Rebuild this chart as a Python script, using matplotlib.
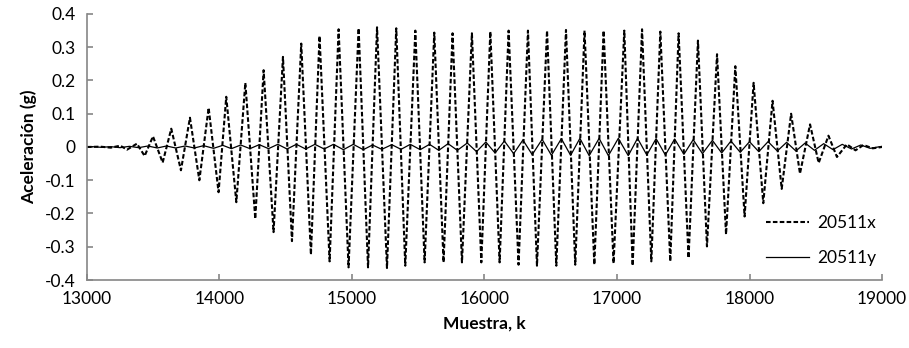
import matplotlib
matplotlib.use("Agg")
import matplotlib.pyplot as plt
from matplotlib.ticker import FuncFormatter, MultipleLocator

plt.rcParams["font.family"] = ["Lato", "DejaVu Sans"]

# 20511x: extremos (muestra, aceleración en g)
x_k = [13000, 13100, 13180, 13251, 13302, 13377, 13435, 13498, 13571, 13636,
       13709, 13777, 13848, 13918, 13993, 14051, 14127, 14195, 14270, 14333,
       14408, 14479, 14547, 14617, 14690, 14755, 14831, 14899, 14974, 15050,
       15121, 15189, 15264, 15334, 15402, 15478, 15548, 15621, 15691, 15759,
       15830, 15905, 15976, 16044, 16114, 16182, 16257, 16328, 16396, 16472,
       16542, 16615, 16685, 16755, 16829, 16899, 16974, 17055, 17118, 17189,
       17259, 17327, 17402, 17465, 17540, 17611, 17679, 17755, 17823, 17893,
       17963, 18031, 18104, 18174, 18243, 18314, 18381, 18457, 18522, 18596,
       18660, 18735, 18800, 18860, 18930, 19000]
x_g = [0.000, 0.001, -0.002, 0.004, -0.008, 0.010, -0.027, 0.032, -0.047, 0.055,
       -0.070, 0.088, -0.100, 0.118, -0.136, 0.151, -0.166, 0.193, -0.216, 0.231,
       -0.256, 0.271, -0.283, 0.311, -0.324, 0.334, -0.344, 0.354, -0.362, 0.357,
       -0.362, 0.360, -0.364, 0.357, -0.357, 0.350, -0.347, 0.344, -0.347, 0.342,
       -0.347, 0.342, -0.347, 0.347, -0.347, 0.350, -0.354, 0.350, -0.357, 0.350,
       -0.357, 0.352, -0.354, 0.350, -0.354, 0.350, -0.350, 0.350, -0.357, 0.354,
       -0.344, 0.347, -0.344, 0.342, -0.334, 0.320, -0.299, 0.279, -0.263, 0.243,
       -0.209, 0.193, -0.169, 0.139, -0.126, 0.100, -0.080, 0.068, -0.048, 0.034,
       -0.030, 0.008, -0.010, 0.006, -0.004, 0.000]

# 20511y
y_k = [13000, 13040, 13110, 13180, 13250, 13320, 13390, 13460, 13530, 13600,
       13670, 13740, 13810, 13880, 13955, 14025, 14090, 14160, 14230, 14300,
       14370, 14440, 14510, 14580, 14650, 14720, 14790, 14860, 14935, 15010,
       15085, 15155, 15225, 15300, 15370, 15440, 15515, 15585, 15655, 15725,
       15795, 15870, 15940, 16010, 16080, 16150, 16220, 16290, 16360, 16435,
       16505, 16580, 16650, 16720, 16790, 16865, 16935, 17010, 17085, 17155,
       17225, 17295, 17365, 17435, 17505, 17575, 17645, 17720, 17790, 17860,
       17930, 18000, 18070, 18140, 18210, 18280, 18350, 18420, 18490, 18560,
       18630, 18700, 18770, 18840, 18910, 19000]
y_g = [0.000, 0.001, -0.001, 0.001, -0.002, 0.002, -0.002, 0.003, -0.003, 0.003,
       -0.003, 0.003, -0.003, 0.004, -0.004, 0.005, -0.005, 0.006, -0.005, 0.007,
       -0.005, 0.008, -0.006, 0.008, -0.006, 0.008, -0.006, 0.008, -0.008, 0.008,
       -0.008, 0.006, -0.007, 0.007, -0.007, 0.008, -0.008, 0.008, -0.010, 0.010,
       -0.010, 0.012, -0.014, 0.015, -0.018, 0.018, -0.020, 0.021, -0.023, 0.023,
       -0.025, 0.025, -0.025, 0.026, -0.026, 0.026, -0.026, 0.026, -0.026, 0.026,
       -0.024, 0.025, -0.024, 0.024, -0.022, 0.022, -0.020, 0.020, -0.018, 0.018,
       -0.016, 0.016, -0.014, 0.016, -0.012, 0.014, -0.012, 0.012, -0.010, 0.010,
       -0.008, 0.008, -0.006, 0.006, -0.004, 0.002]

GRIS = "#868686"

fig = plt.figure(figsize=(9.09, 3.48), dpi=100)
ax = fig.add_axes([0.0957, 0.1954, 0.8746, 0.7644])

ax.plot(x_k, x_g, color="black", lw=1.5, ls=(0, (2.2, 1.1)),
        dash_joinstyle="round", label="20511x")
ax.plot(y_k, y_g, color="black", lw=0.9, solid_joinstyle="round", label="20511y")

ax.set_xlim(13000, 19000)
ax.set_ylim(-0.4, 0.4)
ax.xaxis.set_major_locator(MultipleLocator(1000))
ax.yaxis.set_major_locator(MultipleLocator(0.1))
ax.yaxis.set_major_formatter(FuncFormatter(lambda v, p: f"{round(v, 1):g}"))

for s in ["top", "right"]:
    ax.spines[s].set_visible(False)
for s in ["left", "bottom"]:
    ax.spines[s].set_color(GRIS)
    ax.spines[s].set_linewidth(1.2)
ax.tick_params(direction="in", length=4.5, width=1.2, color=GRIS,
               labelsize=12.5, pad=8)

ax.set_xlabel("Muestra, k", fontsize=12.5, fontweight="bold", labelpad=6)
ax.set_ylabel("Aceleración (g)", fontsize=12.5, fontweight="bold", labelpad=6)

ax.legend(loc="lower right", bbox_to_anchor=(1.013, -0.005), frameon=False,
          fontsize=12.5, handlelength=2.45, labelspacing=1.05, handletextpad=0.5)

fig.savefig("out.png", dpi=100)
